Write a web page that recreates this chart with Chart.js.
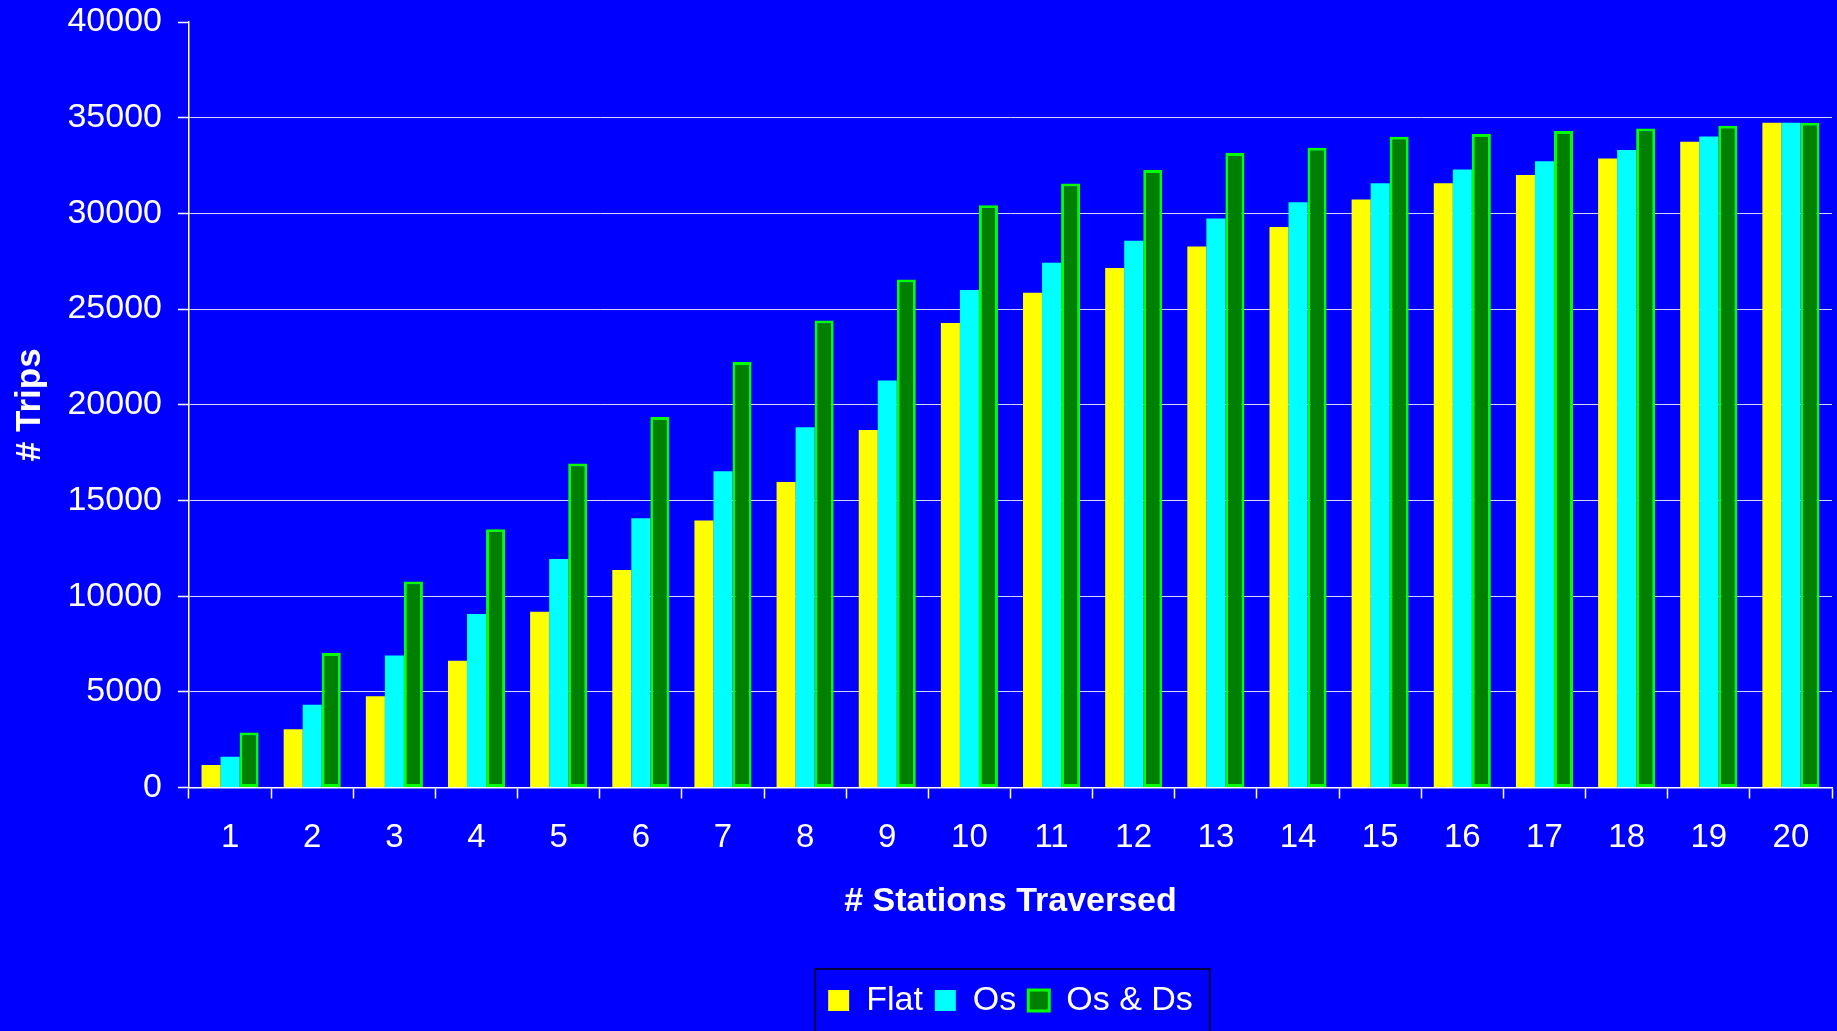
<!DOCTYPE html>
<html>
<head>
<meta charset="utf-8">
<script src="https://cdn.jsdelivr.net/npm/chart.js@4/dist/chart.umd.min.js"></script>
<style>
  html, body { margin: 0; padding: 0; background: #0000ff; }
  #trips { display: block; background: #0000ff; }
</style>
</head>
<body>
<canvas id="trips" width="1837" height="1031"></canvas>
<script>
// # stations traversed
var stations = ["1", "2", "3", "4", "5", "6", "7", "8", "9", "10",
    "11", "12", "13", "14", "15", "16", "17", "18", "19", "20"];

var flat = [1170, 3040, 4770, 6620, 9190, 11360, 13950, 15960, 18680, 24270,
    25850, 27140, 28270, 29290, 30720, 31580, 32010, 32870, 33740, 34740];
var os = [1610, 4330, 6900, 9070, 11940, 14070, 16530, 18820, 21270, 26000,
    27420, 28570, 29730, 30580, 31580, 32290, 32730, 33310, 34020, 34740];
var osDs = [2870, 7030, 10770, 13490, 16930, 19360, 22230, 24400, 26550, 30420,
    31560, 32260, 33150, 33430, 34010, 34150, 34300, 34430, 34580, 34740];

var yMax = 40000;
var yStep = 5000;

var fontFamily = "'Liberation Sans', Arial, sans-serif";

// box around the legend, like the original
var legendFrame = {
    id: "legendFrame",
    afterDraw: function (chart) {
        var lg = chart.legend;
        if (!lg || !lg.legendHitBoxes || !lg.legendHitBoxes.length) return;
        var boxes = lg.legendHitBoxes;
        var first = boxes[0];
        var last = boxes[boxes.length - 1];
        var ctx = chart.ctx;
        var top = lg.top - 2.5;
        ctx.save();
        ctx.strokeStyle = "#000040";
        ctx.lineWidth = 2;
        var x1 = first.left - 13;
        var x2 = last.left + last.width + 17;
        ctx.strokeRect(x1, top, x2 - x1, chart.height - top + 10);
        ctx.restore();
    },
};

var ctx = document.getElementById("trips").getContext("2d");
var myChart = new Chart(ctx, {
    type: "bar",
    data: {
        labels: stations,
        datasets: [
            {
                label: "Flat",
                data: flat,
                backgroundColor: "#ffff00",
                borderWidth: 0,
            },
            {
                label: "Os",
                data: os,
                backgroundColor: "#00ffff",
                borderWidth: 0,
            },
            {
                label: "Os & Ds",
                data: osDs,
                backgroundColor: "#008000",
                borderColor: "#00ff00",
                borderWidth: 3,
                borderSkipped: false,
            },
        ],
    },
    options: {
        responsive: false,
        animation: false,
        categoryPercentage: 0.695,
        barPercentage: 1.0,
        layout: {
            padding: { top: 22, right: 5, bottom: 3.5, left: 0 },
        },
        scales: {
            x: {
                grid: {
                    display: true,
                    drawOnChartArea: false,
                    tickColor: "#ffffff",
                    tickLength: 11,
                    tickWidth: 1.5,
                },
                border: { color: "#ffffff", width: 1.5 },
                ticks: {
                    color: "#ffffff",
                    padding: 20,
                    maxRotation: 0,
                    font: { family: fontFamily, size: 33 },
                },
                title: {
                    display: true,
                    text: "# Stations Traversed",
                    color: "#ffffff",
                    padding: { top: 0, bottom: 49 },
                    font: { family: fontFamily, size: 34, weight: "bold", lineHeight: 1.2 },
                },
                afterFit: function (scale) {
                    scale.height = 184;
                },
            },
            y: {
                min: 0,
                max: yMax,
                grid: {
                    color: function (c) {
                        return c.tick && c.tick.value === yMax ? "rgba(0,0,0,0)" : "#d4d4ff";
                    },
                    lineWidth: 1,
                    tickColor: "#ffffff",
                    tickLength: 11,
                    tickWidth: 1.5,
                },
                border: { color: "#ffffff", width: 1.5 },
                ticks: {
                    stepSize: yStep,
                    color: "#ffffff",
                    padding: 16,
                    font: { family: fontFamily, size: 34 },
                    callback: function (value) {
                        return String(value);
                    },
                },
                title: {
                    display: true,
                    text: "# Trips",
                    color: "#ffffff",
                    padding: { top: 9, bottom: 0 },
                    font: { family: fontFamily, size: 35, weight: "bold", lineHeight: 1.2 },
                },
                afterFit: function (scale) {
                    scale.width = 189;
                    scale.paddingTop = 0;
                    scale.paddingBottom = 0;
                },
            },
        },
        plugins: {
            legend: {
                position: "bottom",
                fullSize: false,
                labels: {
                    color: "#ffffff",
                    boxWidth: 21,
                    boxHeight: 21,
                    padding: 12,
                    font: { family: fontFamily, size: 34 },
                },
            },
            tooltip: { enabled: false },
        },
    },
    plugins: [legendFrame],
});
</script>
</body>
</html>
